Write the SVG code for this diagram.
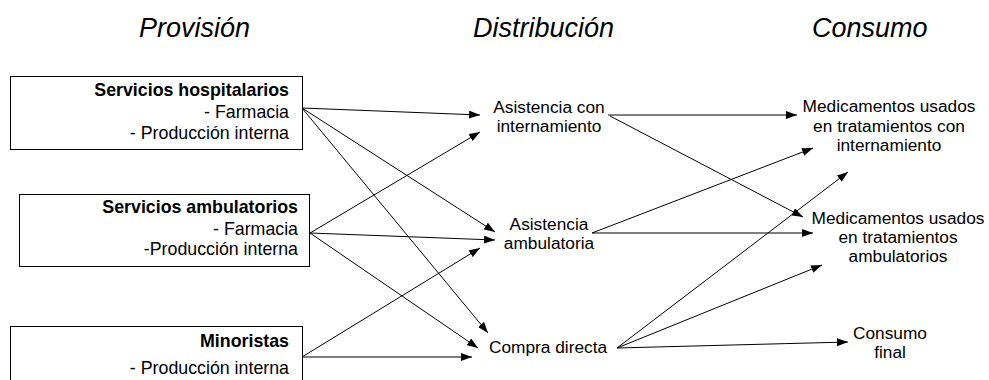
<svg xmlns="http://www.w3.org/2000/svg" width="989" height="380" viewBox="0 0 989 380">
<style>
text{font-family:"Liberation Sans",Arial,sans-serif;fill:#000}
.hd{font-size:27px;font-style:italic}
.t{font-size:17.3px}
.bt{font-size:17.8px}
.b{font-size:17.8px;font-weight:bold}
.r{text-anchor:end}
.c{text-anchor:middle}
.box{fill:#fff;stroke:#000;stroke-width:1}
.cn line{stroke:#000;stroke-width:1;marker-end:url(#ah)}
</style>
<defs>
<marker id="ah" markerUnits="userSpaceOnUse" markerWidth="11" markerHeight="8" refX="11" refY="4" orient="auto">
<path d="M0,0 L11,4 L0,8 z" fill="#000"/>
</marker>
</defs>
<rect width="989" height="380" fill="#fff"/>
<g id="headers">
<text class="hd" x="139" y="37">Provisión</text>
<text class="hd" x="473" y="37">Distribución</text>
<text class="hd" x="812" y="37">Consumo</text>
</g>
<g id="hospitalarios">
<rect class="box" x="10.5" y="76.5" width="292" height="73"/>
<text class="b r" x="289" y="96">Servicios hospitalarios</text>
<text class="bt r" x="289" y="118">- Farmacia</text>
<text class="bt r" x="289" y="139">- Producción interna</text>
</g>
<g id="ambulatorios">
<rect class="box" x="19.5" y="194.5" width="290" height="72"/>
<text class="b r" x="298" y="213">Servicios ambulatorios</text>
<text class="bt r" x="298" y="235">- Farmacia</text>
<text class="bt r" x="298" y="255">-Producción interna</text>
</g>
<g id="minoristas">
<rect class="box" x="10.5" y="326.5" width="292" height="70"/>
<text class="b r" x="289" y="347">Minoristas</text>
<text class="bt r" x="289" y="374">- Producción interna</text>
</g>
<g id="asist-intern">
<text class="t c" x="549" y="113">Asistencia con</text>
<text class="t c" x="549" y="132">internamiento</text>
</g>
<g id="asist-amb">
<text class="t c" x="549" y="230">Asistencia</text>
<text class="t c" x="549" y="249">ambulatoria</text>
</g>
<g id="compra">
<text class="t c" x="548" y="353">Compra directa</text>
</g>
<g id="med-intern">
<text class="t c" x="889" y="112">Medicamentos usados</text>
<text class="t c" x="889" y="132">en tratamientos con</text>
<text class="t c" x="889" y="151">internamiento</text>
</g>
<g id="med-amb">
<text class="t c" x="898" y="224">Medicamentos usados</text>
<text class="t c" x="898" y="243">en tratamientos</text>
<text class="t c" x="898" y="262">ambulatorios</text>
</g>
<g id="consumo-final">
<text class="t c" x="890" y="339">Consumo</text>
<text class="t c" x="890" y="358">final</text>
</g>
<g id="connectors" class="cn">
<line x1="302" y1="108" x2="480" y2="115"/>
<line x1="302" y1="108" x2="495" y2="232"/>
<line x1="302" y1="108" x2="488" y2="333"/>
<line x1="310" y1="233" x2="480" y2="132"/>
<line x1="310" y1="233" x2="495" y2="240"/>
<line x1="310" y1="233" x2="478" y2="348"/>
<line x1="302" y1="357" x2="480" y2="248"/>
<line x1="302" y1="357" x2="472" y2="357"/>
<line x1="608" y1="115" x2="797" y2="115"/>
<line x1="610" y1="116" x2="803" y2="217"/>
<line x1="592" y1="233" x2="813" y2="148"/>
<line x1="592" y1="233" x2="813" y2="233"/>
<line x1="617" y1="348" x2="848" y2="172"/>
<line x1="617" y1="348" x2="822" y2="265"/>
<line x1="617" y1="348" x2="848" y2="342"/>
</g>
</svg>
